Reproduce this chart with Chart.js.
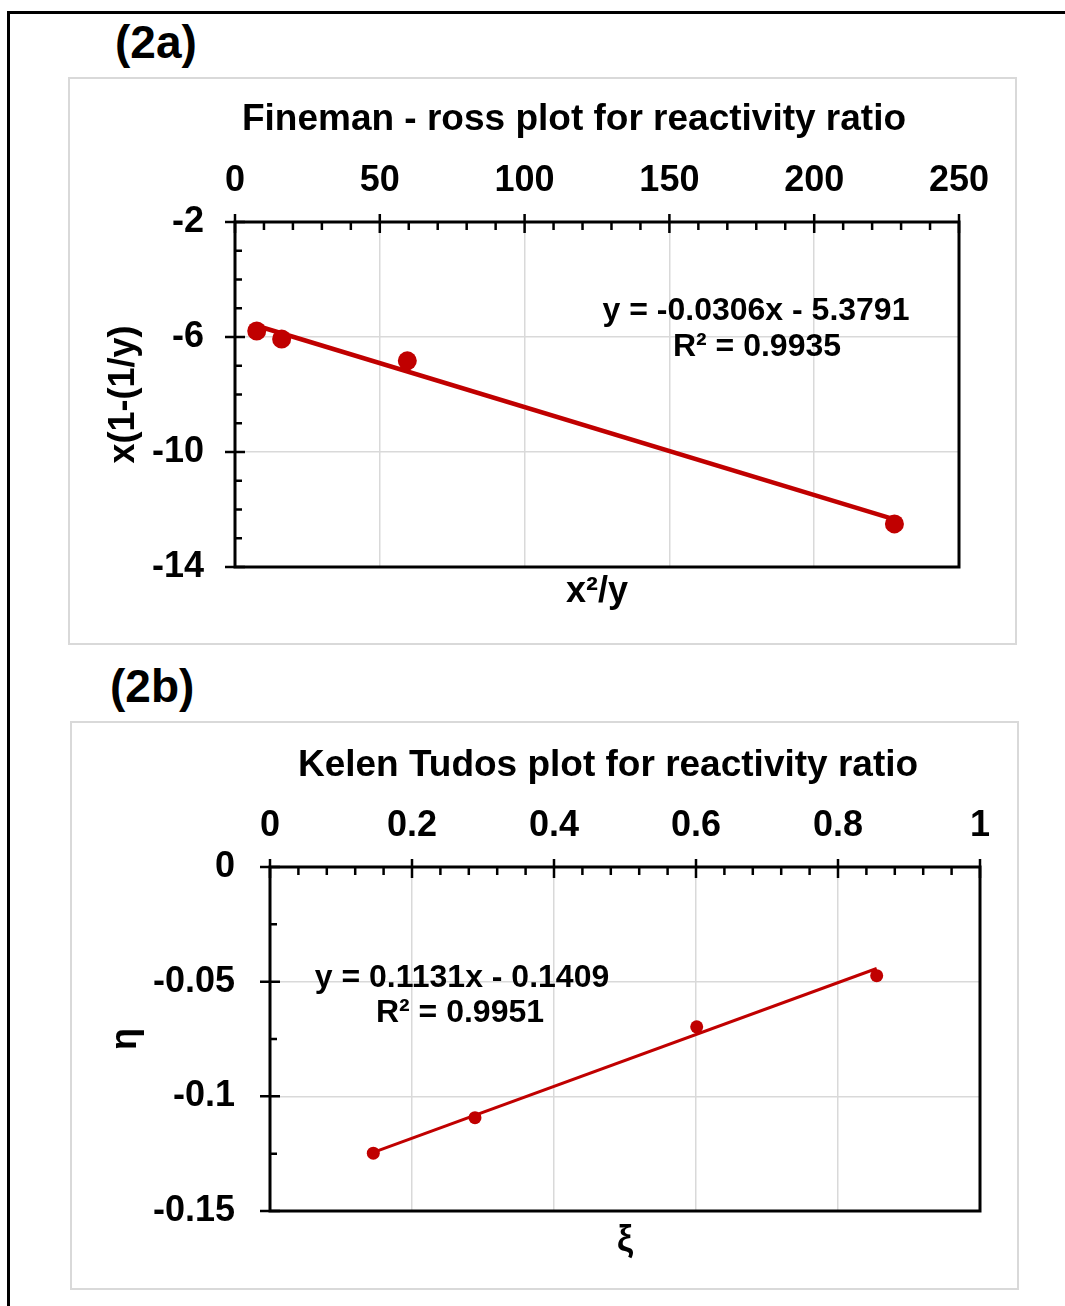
<!DOCTYPE html>
<html>
<head>
<meta charset="utf-8">
<script src="https://cdn.jsdelivr.net/npm/chart.js@4/dist/chart.umd.min.js"></script>
<style>
  html, body { margin: 0; padding: 0; background: #fff; }
  body { width: 1065px; height: 1306px; position: relative; overflow: hidden; font-family: "Liberation Sans", Arial, sans-serif; }
  .sheet { position: absolute; left: 7px; top: 11px; width: 1200px; height: 1400px; border-left: 3px solid #000; border-top: 3px solid #000; }
  .tag { position: absolute; font: bold 46px/46px "Liberation Sans", Arial, sans-serif; color: #000; }
  .box { position: absolute; border: 2px solid #d9d9d9; box-sizing: border-box; }
  .box canvas { position: absolute; left: -2px; top: -2px; }
</style>
</head>
<body>
<div class="sheet"></div>
<div class="tag" style="left:115px; top:19px;">(2a)</div>
<div class="box" style="left:68px; top:77px; width:949px; height:568px;">
  <canvas id="fr" width="949" height="568"></canvas>
</div>
<div class="tag" style="left:110px; top:663px;">(2b)</div>
<div class="box" style="left:70px; top:721px; width:949px; height:569px;">
  <canvas id="kt" width="949" height="569"></canvas>
</div>
<script>
// Fineman-Ross data: x = x^2/y, y = x(1-(1/y))
const frX = [7.5, 16.1, 59.5, 227.7];
const frY = [-5.79, -6.07, -6.83, -12.50];
const frSlope = -0.0306;
const frIntercept = -5.3791;
const frR2 = 0.9935;
const frTicksX = [0, 50, 100, 150, 200, 250];
const frTicksY = [-14, -10, -6, -2];

// Kelen-Tudos data: xi vs eta
const ktXi = [0.1455, 0.2887, 0.601, 0.8545];
const ktEta = [-0.1248, -0.1093, -0.0697, -0.0474];
const ktSlope = 0.1131;
const ktIntercept = -0.1409;
const ktR2 = 0.9951;
const ktTicksX = [0, 0.2, 0.4, 0.6, 0.8, 1];
const ktTicksY = [-0.15, -0.1, -0.05, 0];

const FONT = "'Liberation Sans', Arial, sans-serif";
const RED = '#C00000';
Chart.defaults.font.family = FONT;
Chart.defaults.color = '#000';

function eqText(m, b) {
  return 'y = ' + m.toFixed(4) + 'x ' + (b < 0 ? '- ' : '+ ') + Math.abs(b).toFixed(4);
}

function trendPoints(xs, m, b) {
  const lo = Math.min(...xs), hi = Math.max(...xs);
  return [{x: lo, y: m * lo + b}, {x: hi, y: m * hi + b}];
}

function setTicks(values) {
  return scale => { scale.ticks = values.map(v => ({value: v})); };
}

// plain number labels: 1 rather than 1.0, -0.1 rather than -0.10
const plainLabel = v => String(+Number(v).toFixed(6));

// Box frame around the plot, Excel-style major/minor tick marks, title and trendline note
const framePlugin = {
  id: 'frame',
  afterDraw(chart, args, o) {
    const {ctx, chartArea: a, scales} = chart;
    const xs = scales.x, ys = scales.y;
    ctx.save();
    ctx.strokeStyle = '#000';
    ctx.lineWidth = 3;
    ctx.strokeRect(a.left, a.top, a.right - a.left, a.bottom - a.top);
    ctx.lineWidth = 2.5;
    ctx.beginPath();
    const xt = o.xTicks, yt = o.yTicks;
    xt.forEach((v, i) => {
      const px = xs.getPixelForValue(v);
      ctx.moveTo(px, a.top - 8); ctx.lineTo(px, a.top + 11);
      if (i < xt.length - 1) {
        for (let k = 1; k < o.xMinor; k++) {
          const mv = v + (xt[i + 1] - v) * k / o.xMinor;
          const mp = xs.getPixelForValue(mv);
          ctx.moveTo(mp, a.top); ctx.lineTo(mp, a.top + 8);
        }
      }
    });
    yt.forEach((v, i) => {
      const py = ys.getPixelForValue(v);
      ctx.moveTo(a.left - 10, py); ctx.lineTo(a.left + 10, py);
      if (i < yt.length - 1) {
        for (let k = 1; k < o.yMinor; k++) {
          const mv = v + (yt[i + 1] - v) * k / o.yMinor;
          const mp = ys.getPixelForValue(mv);
          ctx.moveTo(a.left, mp); ctx.lineTo(a.left + 7, mp);
        }
      }
    });
    ctx.stroke();
    ctx.fillStyle = '#000';
    ctx.textAlign = 'center';
    ctx.textBaseline = 'middle';
    ctx.font = 'bold 37px ' + FONT;
    ctx.fillText(o.title, o.titleX, o.titleY);
    ctx.font = 'bold 32px ' + FONT;
    o.notes.forEach(n => ctx.fillText(n.text, n.x, n.y));
    ctx.restore();
  }
};

const tickFont = {size: 36, weight: 'bold'};
const titleFont = {size: 36, weight: 'bold'};

function makeChart(id, cfg) {
  return new Chart(document.getElementById(id), {
    type: 'scatter',
    data: {
      datasets: [
        {
          data: cfg.xs.map((x, i) => ({x: x, y: cfg.ys[i]})),
          showLine: false,
          pointRadius: cfg.radius,
          pointBackgroundColor: RED,
          pointBorderColor: RED,
          pointBorderWidth: 0
        },
        {
          data: trendPoints(cfg.xs, cfg.slope, cfg.intercept),
          showLine: true,
          borderColor: RED,
          borderWidth: cfg.lineWidth,
          pointRadius: 0,
          fill: false
        }
      ]
    },
    options: {
      responsive: false,
      animation: false,
      events: [],
      layout: {padding: {left: 0, right: cfg.padRight, top: 0, bottom: 0}},
      plugins: {
        legend: {display: false},
        tooltip: {enabled: false},
        frame: cfg.frame
      },
      scales: {
        x: {
          type: 'linear', position: 'top', min: cfg.xMin, max: cfg.xMax,
          afterBuildTicks: setTicks(cfg.xTicks),
          ticks: {font: tickFont, color: '#000', padding: 19, maxRotation: 0, autoSkip: false, callback: plainLabel},
          grid: {color: '#d9d9d9', lineWidth: 1.5, drawTicks: false},
          border: {display: false},
          afterFit: s => { s.height = cfg.topH; }
        },
        xb: {
          type: 'linear', position: 'bottom', min: cfg.xMin, max: cfg.xMax,
          ticks: {display: false},
          grid: {display: false, drawTicks: false},
          border: {display: false},
          title: {display: true, text: cfg.xTitle, font: titleFont, color: '#000', padding: {top: 0, bottom: cfg.xTitlePad}},
          afterFit: s => { s.height = cfg.bottomH; }
        },
        y: {
          type: 'linear', position: 'left', min: cfg.yMin, max: cfg.yMax,
          afterBuildTicks: setTicks(cfg.yTicks),
          ticks: {font: tickFont, color: '#000', padding: cfg.yTickPad, autoSkip: false, callback: plainLabel},
          grid: {color: '#d9d9d9', lineWidth: 1.5, drawTicks: false},
          border: {display: false},
          title: {display: true, text: cfg.yTitle, font: titleFont, color: '#000', padding: {top: cfg.yTitlePad, bottom: 0}},
          afterFit: s => { s.width = cfg.leftW; }
        }
      }
    },
    plugins: [framePlugin]
  });
}

makeChart('fr', {
  xs: frX, ys: frY, slope: frSlope, intercept: frIntercept,
  radius: 9.5, lineWidth: 4.5,
  xMin: 0, xMax: 250, yMin: -14, yMax: -2,
  xTicks: frTicksX, yTicks: frTicksY,
  padRight: 58, topH: 145, bottomH: 78, leftW: 167,
  yTickPad: 31, xTitlePad: 31, yTitlePad: 34,
  xTitle: 'x²/y', yTitle: 'x(1-(1/y)',
  frame: {
    xTicks: frTicksX, yTicks: frTicksY, xMinor: 5, yMinor: 4,
    title: 'Fineman - ross plot for reactivity ratio', titleX: 506, titleY: 43,
    notes: [
      {text: eqText(frSlope, frIntercept), x: 688, y: 234},
      {text: 'R² = ' + frR2.toFixed(4), x: 689, y: 270}
    ]
  }
});

makeChart('kt', {
  xs: ktXi, ys: ktEta, slope: ktSlope, intercept: ktIntercept,
  radius: 6.5, lineWidth: 3,
  xMin: 0, xMax: 1, yMin: -0.15, yMax: 0,
  xTicks: ktTicksX, yTicks: ktTicksY,
  padRight: 39, topH: 146, bottomH: 79, leftW: 200,
  yTickPad: 35, xTitlePad: 27, yTitlePad: 34,
  xTitle: 'ξ', yTitle: 'η',
  frame: {
    xTicks: ktTicksX, yTicks: ktTicksY, xMinor: 5, yMinor: 2,
    title: 'Kelen Tudos plot for reactivity ratio', titleX: 538, titleY: 45,
    notes: [
      {text: eqText(ktSlope, ktIntercept), x: 392, y: 257},
      {text: 'R² = ' + ktR2.toFixed(4), x: 390, y: 292}
    ]
  }
});
</script>
</body>
</html>
